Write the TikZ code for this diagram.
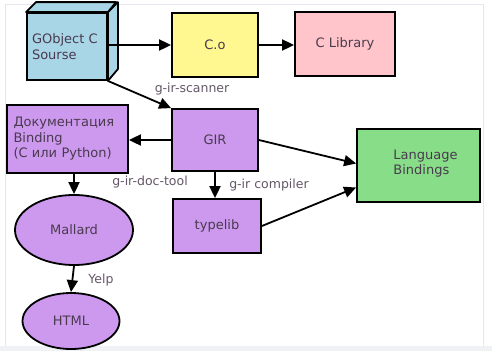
\documentclass[tikz,border=0pt]{standalone}
\usepackage{fontspec}
\setmainfont{DejaVu Sans}
\usetikzlibrary{arrows.meta,shapes.geometric}
\definecolor{cubeblue}{HTML}{A9D6E7}
\definecolor{objyellow}{HTML}{FFF78F}
\definecolor{libpink}{HTML}{FFC5CB}
\definecolor{girpurple}{HTML}{CC99EE}
\definecolor{bindgreen}{HTML}{88DD88}
\definecolor{txt}{HTML}{4A3A4E}
\definecolor{frame}{HTML}{E4E8EE}
\begin{document}
\begin{tikzpicture}[x=1pt,y=-1pt,
  every node/.style={font=\fontsize{13}{15.5}\selectfont, text=txt},
  box/.style={draw=black, line width=1.8pt, rectangle, inner sep=0pt},
  oval/.style={draw=black, line width=1.8pt, ellipse, fill=girpurple, inner sep=0pt},
  conn/.style={line width=1.8pt, -{Triangle[length=12pt,width=11pt]}},
  lbl/.style={font=\fontsize{12.5}{15}\selectfont, text=txt!85}]
\useasboundingbox (0,0) rectangle (492,351);
\fill[white] (0,0) rectangle (492,351);
% faint slide frame
\draw[frame, line width=1pt] (5,4) -- (483,4) -- (483,346);
\draw[frame, line width=1pt] (5,4) -- (5,346);
\fill[frame!60] (0,346) rectangle (492,351);

% GObject source cube
\node[box, fill=cubeblue, minimum width=80pt, minimum height=67pt,
      align=left, text width=70pt] (src) at (67,46.5) {GObject C\\Sourse};
\draw[line width=1.8pt, fill=cubeblue, line join=round]
  (src.north east) -- ++(10,-10) -- ++(0,67) -- (src.south east) -- cycle;
\draw[line width=1.8pt, fill=cubeblue, line join=round]
  (src.north west) -- ++(10,-10) -- ++(80,0) -- (src.north east) -- cycle;

% top row
\node[box, fill=objyellow, minimum width=86pt, minimum height=64pt] (co) at (215,45) {C.o};
\node[box, fill=libpink, minimum width=100pt, minimum height=64pt] (clib) at (345,44) {C Library};

% middle row
\node[box, fill=girpurple, minimum width=86pt, minimum height=62pt] (gir) at (215,140) {GIR};
\node[box, fill=girpurple, minimum width=121pt, minimum height=68pt,
      align=left, text width=108pt] (doc) at (67.5,139)
      {Документация\\Binding\\(С или Python)};
\node[box, fill=bindgreen, minimum width=123pt, minimum height=73pt] (lang) at (418.5,165.5) {};
\node[align=left, anchor=center] (langtxt) at ([xshift=7pt,yshift=2pt]lang.center) {Language\\Bindings};
\node[box, fill=girpurple, minimum width=88pt, minimum height=54pt] (tlib) at (217,226) {typelib};

% documentation chain
\node[oval, minimum width=118pt, minimum height=70pt] (mall) at (74,230) {Mallard};
\node[oval, minimum width=97pt, minimum height=56pt] (html) at (71,321) {HTML};

% connectors
\draw[conn] (src.east |- co.west) -- (co.west);
\draw[conn] (co.east) -- (co.east -| clib.west);
\draw[conn] (src.south east) -- (gir.north west);
\draw[conn] (gir.west) -- (doc.east |- gir.west);
\draw[conn] (gir.south) -- (gir.south |- tlib.north);
\draw[conn] (gir.east) -- ([yshift=2pt]lang.west);
\draw[conn] (tlib.east) -- ([yshift=-22pt]lang.west);
\draw[conn] (doc.south -| mall.north) -- (mall.north);
\draw[conn] (mall.south) -- (html.north);

% tool labels
\node[lbl] (lscan) at (192,89) {g-ir-scanner};
\node[lbl] (ldoc) at (150,182) {g-ir-doc-tool};
\node[lbl] (lcomp) at (269,185) {g-ir compiler};
\node[lbl] (lyelp) at (101,280) {Yelp};
\end{tikzpicture}
\end{document}
